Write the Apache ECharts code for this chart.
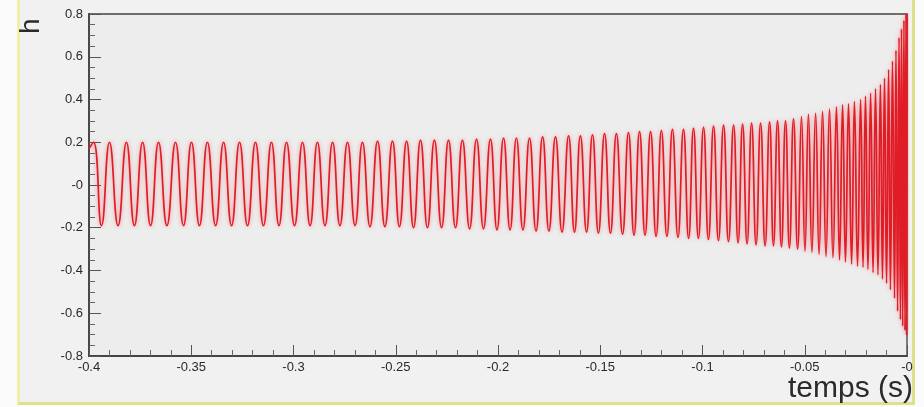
<!DOCTYPE html>
<html>
<head>
    <meta charset="utf-8">
    <title>h(t)</title>
    <script src="https://cdn.jsdelivr.net/npm/echarts@6/dist/echarts.min.js"></script>
    <style>
        html,body{
            height: 100%;
            margin: 0;
            padding: 0;
            background: #fbfbfb;
        }
        #frame{
            position: absolute; left: 17px; top: 0; width: 892px; height: 402px;
            background: #f1f1f1;
            border-left: 3px solid #efefa8;
            border-right: 3px solid #e0e08a;
            border-bottom: 3px solid #e0e08a;
        }
        #main{ position: absolute; left: 0; top: 0; width: 924px; height: 407px; }
    </style>
</head>
<body>
    <div id="frame"></div>
    <div id="main"></div>
    <script type="text/javascript">
    // extrema of the signal (time in s, h)
    var extT = [
        -0.4000, -0.3978, -0.3939, -0.3900, -0.3858, -0.3817, -0.3778, -0.3738, -0.3699, -0.3660,
        -0.3619, -0.3577, -0.3538, -0.3499, -0.3460, -0.3421, -0.3381, -0.3342, -0.3303, -0.3264,
        -0.3225, -0.3186, -0.3147, -0.3108, -0.3071, -0.3034, -0.2995, -0.2956, -0.2919, -0.2883,
        -0.2846, -0.2809, -0.2773, -0.2736, -0.2699, -0.2663, -0.2626, -0.2589, -0.2553, -0.2516,
        -0.2482, -0.2447, -0.2413, -0.2379, -0.2345, -0.2311, -0.2276, -0.2242, -0.2208, -0.2174,
        -0.2139, -0.2105, -0.2071, -0.2037, -0.2005, -0.1973, -0.1941, -0.1910, -0.1878, -0.1846,
        -0.1814, -0.1782, -0.1751, -0.1719, -0.1687, -0.1655, -0.1626, -0.1597, -0.1567, -0.1538,
        -0.1509, -0.1479, -0.1450, -0.1421, -0.1391, -0.1362, -0.1335, -0.1308, -0.1281, -0.1254,
        -0.1227, -0.1201, -0.1174, -0.1147, -0.1120, -0.1093, -0.1068, -0.1044, -0.1020, -0.0995,
        -0.0971, -0.0946, -0.0922, -0.0897, -0.0873, -0.0848, -0.0826, -0.0804, -0.0782, -0.0760,
        -0.0738, -0.0716, -0.0694, -0.0672, -0.0653, -0.0633, -0.0614, -0.0594, -0.0575, -0.0555,
        -0.0535, -0.0516, -0.0499, -0.0482, -0.0465, -0.0447, -0.0430, -0.0413, -0.0396, -0.0379,
        -0.0362, -0.0345, -0.0330, -0.0315, -0.0301, -0.0286, -0.0271, -0.0257, -0.0242, -0.0227,
        -0.0215, -0.0203, -0.0191, -0.0178, -0.0166, -0.0154, -0.0142, -0.0130, -0.0120, -0.0110,
        -0.0100, -0.0090, -0.0081, -0.0071, -0.0061, -0.0054, -0.0046, -0.0039, -0.0032, -0.0027,
        -0.0021, -0.0015, -0.0010, -0.0005, -0.0002, 0.0000
    ];
    var extH = [
        0.17, 0.20, -0.19, 0.20, -0.19, 0.20, -0.19, 0.20, -0.19, 0.20,
        -0.19, 0.20, -0.19, 0.20, -0.19, 0.20, -0.19, 0.20, -0.19, 0.20,
        -0.19, 0.20, -0.19, 0.20, -0.19, 0.20, -0.19, 0.20, -0.19, 0.20,
        -0.19, 0.20, -0.19, 0.20, -0.19, 0.20, -0.195, 0.205, -0.195, 0.205,
        -0.195, 0.205, -0.20, 0.21, -0.20, 0.21, -0.20, 0.21, -0.20, 0.21,
        -0.205, 0.215, -0.205, 0.215, -0.21, 0.22, -0.21, 0.22, -0.21, 0.22,
        -0.215, 0.225, -0.215, 0.225, -0.22, 0.23, -0.22, 0.23, -0.22, 0.235,
        -0.225, 0.24, -0.225, 0.24, -0.23, 0.245, -0.235, 0.25, -0.235, 0.25,
        -0.24, 0.255, -0.24, 0.26, -0.245, 0.26, -0.25, 0.265, -0.25, 0.27,
        -0.255, 0.275, -0.26, 0.28, -0.265, 0.28, -0.27, 0.285, -0.275, 0.29,
        -0.28, 0.29, -0.285, 0.295, -0.285, 0.30, -0.29, 0.30, -0.295, 0.31,
        -0.30, 0.32, -0.31, 0.33, -0.315, 0.335, -0.325, 0.345, -0.335, 0.355,
        -0.34, 0.365, -0.35, 0.375, -0.36, 0.38, -0.37, 0.39, -0.38, 0.40,
        -0.385, 0.415, -0.395, 0.43, -0.41, 0.45, -0.42, 0.47, -0.44, 0.50,
        -0.46, 0.54, -0.49, 0.58, -0.53, 0.63, -0.59, 0.69, -0.63, 0.73,
        -0.66, 0.77, -0.68, 0.80, -0.70, 0.80
    ];

    var xTicks = [-0.4, -0.35, -0.3, -0.25, -0.2, -0.15, -0.1, -0.05, 0];
    var xTickLabels = ['-0.4', '-0.35', '-0.3', '-0.25', '-0.2', '-0.15', '-0.1', '-0.05', '-0'];
    var yTicks = [-0.8, -0.6, -0.4, -0.2, 0, 0.2, 0.4, 0.6, 0.8];
    var yTickLabels = ['-0.8', '-0.6', '-0.4', '-0.2', '-0', '0.2', '0.4', '0.6', '0.8'];

    function tickLabel(ticks, labels){
        return function(v){
            for(var i = 0; i < ticks.length; i++){
                if(Math.abs(ticks[i] - v) < 1e-6) return labels[i];
            }
            return '';
        };
    }

    var seriesData = [];
    for(var i = 0; i < extT.length; i++){
        seriesData.push([extT[i], extH[i]]);
    }

    var myChart = echarts.init(document.getElementById('main'));

    var axisFont = {fontFamily: 'Liberation Sans', fontSize: 13, color: '#2a2a2a'};

    option = {
        animation: false,
        grid: {
            left: 89, right: 17, top: 14, bottom: 51,
            show: true,
            backgroundColor: '#ededed',
            borderColor: '#6e6e6e',
            borderWidth: 1.8
        },
        xAxis: {
            type: 'value',
            min: -0.4, max: 0, interval: 0.05,
            axisLine: {show: true, onZero: false, lineStyle: {color: '#444', width: 1.8}},
            axisTick: {inside: true, length: 11, lineStyle: {color: '#555'}},
            minorTick: {show: true, splitNumber: 5, length: 6, lineStyle: {color: '#666'}},
            splitLine: {show: false},
            axisLabel: Object.assign({margin: 5, formatter: tickLabel(xTicks, xTickLabels)}, axisFont)
        },
        yAxis: {
            type: 'value',
            min: -0.8, max: 0.8, interval: 0.2,
            axisLine: {show: true, onZero: false, lineStyle: {color: '#444', width: 1.8}},
            axisTick: {inside: true, length: 12, lineStyle: {color: '#555'}},
            minorTick: {show: true, splitNumber: 4, length: 6, lineStyle: {color: '#666'}},
            splitLine: {show: false},
            axisLabel: Object.assign({margin: 6, formatter: tickLabel(yTicks, yTickLabels)}, axisFont)
        },
        graphic: [
            {
                type: 'text', right: 11, bottom: 3,
                style: {text: 'temps (s)', font: '30px "Liberation Sans"', fill: '#2a2a2a'}
            },
            {
                type: 'text', x: 45, y: 34, rotation: Math.PI / 2,
                style: {text: 'h', font: '28px "Liberation Sans"', fill: '#2a2a2a', textAlign: 'left', textVerticalAlign: 'bottom'}
            }
        ],
        series: [
            {
                name: 'h',
                type: 'line',
                data: seriesData,
                showSymbol: false,
                smooth: 0.5,
                lineStyle: {
                    color: '#e01c26',
                    width: 1.7,
                    shadowColor: 'rgba(238,70,80,0.6)',
                    shadowBlur: 4
                }
            }
        ]
    };

    myChart.setOption(option);
    </script>
</body>
</html>
